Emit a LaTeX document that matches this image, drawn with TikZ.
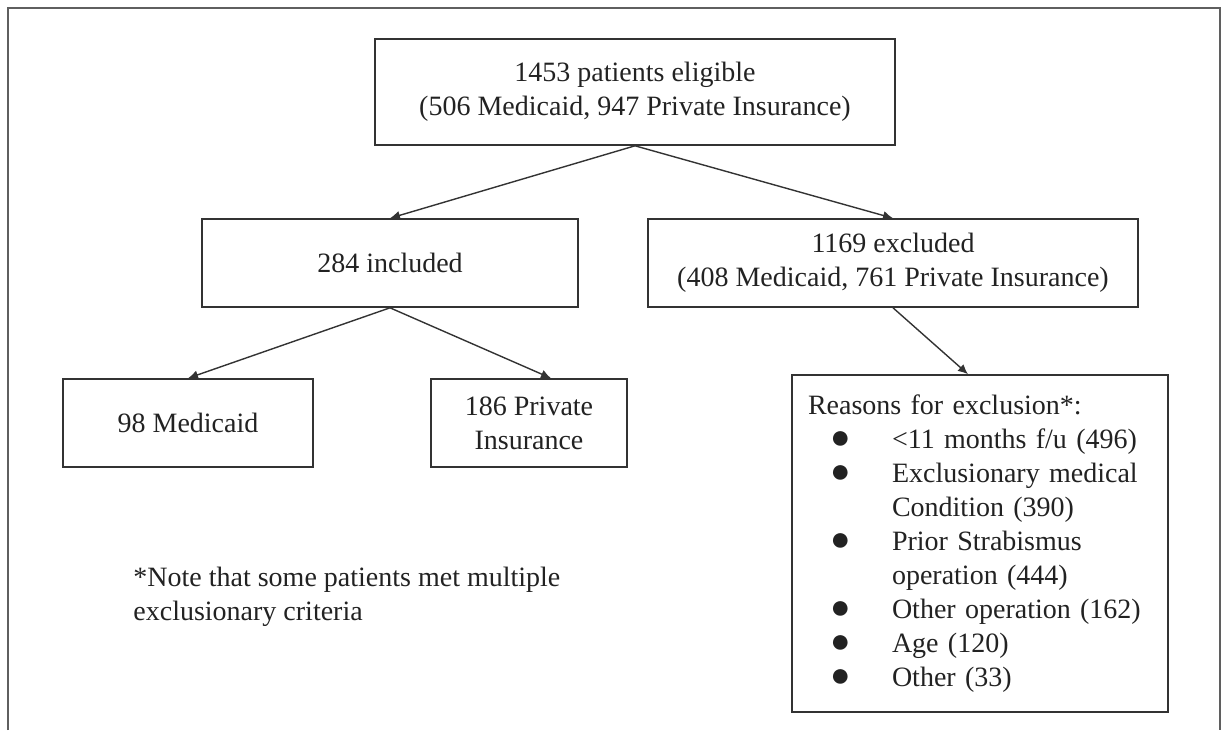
\documentclass[tikz,border=0pt]{standalone}
\usepackage{fontspec}
\setmainfont{Liberation Serif}
\definecolor{fDark}{HTML}{333333}
\definecolor{fText}{HTML}{222222}
\definecolor{fFrame}{HTML}{5F5F5F}
\usepackage{tikz}
\usetikzlibrary{arrows.meta}

\newcommand{\rbul}{\makebox[42pt][l]{\hspace*{11pt}{\fontsize{17}{17}\selectfont ●}}}
\newcommand{\rgap}{\hspace*{42pt}}

\begin{document}
\begin{tikzpicture}[x=0.5pt, y=-0.5pt,
    every node/.style={font=\fontsize{14}{17}\selectfont, text=fText},
    flowbox/.style={draw=fDark, line width=0.8pt, align=center, inner sep=0pt},
    flowarrow/.style={draw=fDark, line width=0.7pt, -{Latex[length=5pt,width=4.5pt]}}]
  \useasboundingbox (0,0) rectangle (1225,730);
  % outer frame, runs off the bottom
  \draw[fFrame, line width=1.2pt] (8,730) -- (8,8) -- (1220,8) -- (1220,730);

  \node[flowbox, minimum width=260pt, minimum height=53pt] (elig) at (635,92)
    {1453 patients eligible\\(506 Medicaid, 947 Private Insurance)};
  \node[flowbox, minimum width=188pt, minimum height=44pt] (incl) at (390,263)
    {284 included};
  \node[flowbox, minimum width=245pt, minimum height=44pt] (excl) at (893,263)
    {1169 excluded\\(408 Medicaid, 761 Private Insurance)};
  \node[flowbox, minimum width=125pt, minimum height=44pt] (medicaid) at (188,423)
    {98 Medicaid};
  \node[flowbox, minimum width=98pt, minimum height=44pt] (private) at (529,423)
    {186 Private\\Insurance};
  \node[flowbox, align=left, text width=172pt, inner xsep=8pt,
        minimum height=168.5pt] (reasons) at (980,543.5)
    {Reasons for exclusion*:\\
     \rbul <11 months f/u (496)\\
     \rbul Exclusionary medical\\
     \rgap Condition (390)\\
     \rbul Prior Strabismus\\
     \rgap operation (444)\\
     \rbul Other operation (162)\\
     \rbul Age (120)\\
     \rbul Other (33)};
  \node[align=left, anchor=west, inner sep=0pt] (note) at (133,597)
    {*Note that some patients met multiple\\exclusionary criteria};

  \draw[flowarrow] (elig.south) -- (incl.north);
  \draw[flowarrow] (elig.south) -- (excl.north);
  \draw[flowarrow] (incl.south) -- (medicaid.north);
  \draw[flowarrow] (incl.south) -- ([xshift=11pt]private.north);
  \draw[flowarrow] (excl.south) -- ([xshift=-6pt]reasons.north);
\end{tikzpicture}
\end{document}
